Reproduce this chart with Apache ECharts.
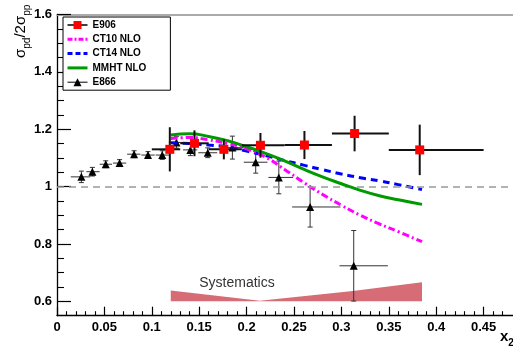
<!DOCTYPE html>
<html>
<head>
<meta charset="utf-8">
<script src="https://cdn.jsdelivr.net/npm/echarts@6/dist/echarts.min.js"></script>
<style>
html,body{margin:0;padding:0;background:#fff;}
#chart{width:513px;height:346px;}
</style>
</head>
<body>
<div id="chart"></div>
<script>
// ---- data ----
const e906X   = [0.119, 0.145, 0.176, 0.2146, 0.261, 0.3139, 0.3826];
const e906Y   = [1.130, 1.151, 1.130, 1.144, 1.145, 1.185, 1.128];
const e906Err = [0.077, 0.045, 0.035, 0.043, 0.049, 0.062, 0.088];
const e906XLo = [0.10, 0.13, 0.16, 0.195, 0.24, 0.29, 0.35];
const e906XHi = [0.13, 0.16, 0.195, 0.24, 0.29, 0.35, 0.45];

const e866X   = [0.0257, 0.0373, 0.0514, 0.066, 0.0813, 0.096, 0.111, 0.126, 0.1407, 0.159, 0.185, 0.2096, 0.234, 0.267, 0.313];
const e866Y   = [1.034, 1.052, 1.078, 1.082, 1.113, 1.110, 1.110, 1.154, 1.128, 1.118, 1.136, 1.085, 1.032, 0.929, 0.724];
const e866Err = [0.020, 0.015, 0.012, 0.012, 0.012, 0.012, 0.015, 0.020, 0.020, 0.017, 0.040, 0.038, 0.057, 0.070, 0.123];
const e866XLo = [0.0145, 0.031, 0.045, 0.059, 0.074, 0.089, 0.104, 0.118, 0.133, 0.149, 0.172, 0.197, 0.223, 0.248, 0.298];
const e866XHi = [0.035, 0.045, 0.058, 0.073, 0.088, 0.103, 0.118, 0.133, 0.148, 0.169, 0.197, 0.222, 0.249, 0.299, 0.349];

const curveX = [0.12, 0.14, 0.16, 0.18, 0.20, 0.22, 0.24, 0.26, 0.28, 0.30, 0.32, 0.34, 0.36, 0.385];
const ct10   = [1.168, 1.171, 1.163, 1.150, 1.132, 1.103, 1.060, 1.015, 0.973, 0.935, 0.900, 0.870, 0.843, 0.808];
const ct14   = [1.153, 1.150, 1.145, 1.138, 1.124, 1.108, 1.091, 1.075, 1.059, 1.044, 1.031, 1.020, 1.007, 0.990];
const mmht   = [1.180, 1.184, 1.175, 1.160, 1.139, 1.116, 1.090, 1.061, 1.034, 1.010, 0.987, 0.968, 0.954, 0.938];

const sysX    = [0.12, 0.214, 0.312, 0.385];
const sysTop  = [0.638, 0.602, 0.636, 0.667];
const sysBase = 0.6;

const refLine = 1.0;

const xTicks      = [0, 0.05, 0.1, 0.15, 0.2, 0.25, 0.3, 0.35, 0.4, 0.45];
const xMinorTicks = [0.01,0.02,0.03,0.04,0.06,0.07,0.08,0.09,0.11,0.12,0.13,0.14,0.16,0.17,0.18,0.19,0.21,0.22,0.23,0.24,0.26,0.27,0.28,0.29,0.31,0.32,0.33,0.34,0.36,0.37,0.38,0.39,0.41,0.42,0.43,0.44,0.46,0.47];
const yTicks      = [0.6, 0.8, 1, 1.2, 1.4, 1.6];
const yMinorTicks = [0.65,0.7,0.75,0.85,0.9,0.95,1.05,1.1,1.15,1.25,1.3,1.35,1.45,1.5,1.55];

const xMin = 0, xMax = 0.481, yMin = 0.55, yMax = 1.6;

// ---- build ----
const zip = (a, b) => a.map((v, i) => [v, b[i]]);
const errData = (x, y, e, lo, hi) => x.map((v, i) => [v, y[i], lo[i], hi[i], y[i] - e[i], y[i] + e[i]]);

function errRender(width, color, cap) {
  return function (params, api) {
    const x = api.value(0), y = api.value(1);
    const pL = api.coord([api.value(2), y]), pR = api.coord([api.value(3), y]);
    const pB = api.coord([x, api.value(4)]), pT = api.coord([x, api.value(5)]);
    const st = { stroke: color, lineWidth: width };
    const ch = [
      { type: 'line', shape: { x1: pL[0], y1: pL[1], x2: pR[0], y2: pR[1] }, style: st },
      { type: 'line', shape: { x1: pB[0], y1: pB[1], x2: pT[0], y2: pT[1] }, style: st }
    ];
    if (cap) {
      ch.push({ type: 'line', shape: { x1: pB[0] - cap, y1: pB[1], x2: pB[0] + cap, y2: pB[1] }, style: st });
      ch.push({ type: 'line', shape: { x1: pT[0] - cap, y1: pT[1], x2: pT[0] + cap, y2: pT[1] }, style: st });
    }
    return { type: 'group', children: ch };
  };
}

const FONT = 'Liberation Sans, Arial, Helvetica, sans-serif';

const baseX = { type: 'value', min: xMin, max: xMax, splitLine: { show: false } };
const baseY = { type: 'value', min: yMin, max: yMax, splitLine: { show: false } };
const noSym = { opacity: 0, color: 'transparent', borderWidth: 0 };

const chart = echarts.init(document.getElementById('chart'), null, { renderer: 'canvas' });
chart.setOption({
  animation: false,
  backgroundColor: '#fff',
  grid: { left: 57, right: 0, top: 14.5, bottom: 30.3, outerBoundsMode: 'none' },
  xAxis: [
    Object.assign({}, baseX, {
      position: 'bottom',
      axisLine: { show: true, lineStyle: { color: '#000', width: 1.3 } },
      axisTick: { show: true, inside: true, length: 9, customValues: xTicks, lineStyle: { color: '#000', width: 1.2 } },
      axisLabel: { show: true, customValues: xTicks, margin: 5, color: '#000', fontFamily: FONT, fontWeight: 'bold', fontSize: 13 }
    }),
    Object.assign({}, baseX, {
      position: 'bottom',
      axisLine: { show: false },
      axisTick: { show: true, inside: true, length: 4.5, customValues: xMinorTicks, lineStyle: { color: '#000', width: 1.1 } },
      axisLabel: { show: false }
    }),
    Object.assign({}, baseX, {
      position: 'top',
      axisLine: { show: true, lineStyle: { color: '#aaa', width: 2 } },
      axisTick: { show: false },
      axisLabel: { show: false }
    })
  ],
  yAxis: [
    Object.assign({}, baseY, {
      position: 'left',
      axisLine: { show: true, lineStyle: { color: '#000', width: 1.3 } },
      axisTick: { show: true, inside: true, length: 14, customValues: yTicks, lineStyle: { color: '#000', width: 1.2 } },
      axisLabel: { show: true, customValues: yTicks, margin: 5, color: '#000', fontFamily: FONT, fontWeight: 'bold', fontSize: 13 }
    }),
    Object.assign({}, baseY, {
      position: 'left',
      axisLine: { show: false },
      axisTick: { show: true, inside: true, length: 7, customValues: yMinorTicks, lineStyle: { color: '#000', width: 1.1 } },
      axisLabel: { show: false }
    })
  ],
  legend: {
    orient: 'vertical', left: 63, top: 17,
    itemWidth: 20, itemHeight: 10, itemGap: 4.3,
    padding: [3, 24, 3, 3],
    borderColor: '#000', borderWidth: 1, backgroundColor: '#fff',
    selectedMode: false,
    textStyle: { fontFamily: FONT, fontWeight: 'bold', fontSize: 10, color: '#000', padding: [0, 0, 0, 0] },
    data: [
      { name: 'E906', lineStyle: { color: '#000', width: 1.5 } },
      { name: 'CT10 NLO', itemStyle: noSym, lineStyle: { width: 3, type: [5, 2, 2, 2] } },
      { name: 'CT14 NLO', itemStyle: noSym, lineStyle: { width: 3, type: [5, 3] } },
      { name: 'MMHT NLO', itemStyle: noSym, lineStyle: { width: 3 } },
      { name: 'E866', lineStyle: { color: '#000', width: 1 } }
    ]
  },
  graphic: [
    {
      type: 'text', x: 28, y: 58, rotation: Math.PI / 2,
      style: {
        text: '{m|σ}{s|pd}{m|/2σ}{s|pp}',
        fill: '#000', align: 'left', verticalAlign: 'bottom',
        rich: {
          m: { fontFamily: FONT, fontSize: 15, fill: '#000', lineHeight: 18, verticalAlign: 'bottom' },
          s: { fontFamily: FONT, fontSize: 10, fill: '#000', lineHeight: 18, verticalAlign: 'bottom', padding: [0, 0, -4, 0] }
        }
      }
    },
    {
      type: 'text', x: 500, y: 344,
      style: {
        text: '{m|x}{s|2}', fill: '#000', align: 'left', verticalAlign: 'bottom',
        rich: {
          m: { fontFamily: FONT, fontWeight: 'bold', fontSize: 15, fill: '#000', lineHeight: 16, verticalAlign: 'bottom' },
          s: { fontFamily: FONT, fontWeight: 'bold', fontSize: 10, fill: '#000', lineHeight: 16, verticalAlign: 'bottom', padding: [0, 0, -4, 0] }
        }
      }
    },
    {
      type: 'text', x: 237, y: 283,
      style: { text: 'Systematics', fill: '#333', fontFamily: FONT, fontSize: 14, align: 'center', verticalAlign: 'middle' }
    }
  ],
  series: [
    {
      name: 'Systematics', type: 'line', z: 1,
      data: zip(sysX, sysTop), symbol: 'none', silent: true,
      lineStyle: { width: 0 },
      areaStyle: { origin: sysBase, color: '#d4646e', opacity: 0.95 },
      markLine: {
        silent: true, symbol: 'none', label: { show: false },
        lineStyle: { color: '#999', type: [7, 5], width: 1.6 },
        data: [{ yAxis: refLine }]
      }
    },
    {
      name: 'E866err', type: 'custom', z: 2, silent: true,
      renderItem: errRender(1, '#333', 2.5),
      data: errData(e866X, e866Y, e866Err, e866XLo, e866XHi)
    },
    {
      name: 'E866', type: 'line', z: 3, data: zip(e866X, e866Y),
      symbol: 'triangle', symbolSize: 8, showSymbol: true,
      itemStyle: { color: '#000' }, lineStyle: { width: 0, color: '#000' }
    },
    {
      name: 'CT14 NLO', type: 'line', z: 4, data: zip(curveX, ct14), smooth: true, symbol: 'none', showSymbol: false,
      itemStyle: { color: '#0000ff' }, lineStyle: { color: '#0000ff', width: 3, type: [7, 5] }
    },
    {
      name: 'CT10 NLO', type: 'line', z: 4, data: zip(curveX, ct10), smooth: true, symbol: 'none', showSymbol: false,
      itemStyle: { color: '#ff00ff' }, lineStyle: { color: '#ff00ff', width: 3, type: [7, 3, 2, 3] }
    },
    {
      name: 'MMHT NLO', type: 'line', z: 5, data: zip(curveX, mmht), smooth: true, symbol: 'none', showSymbol: false,
      itemStyle: { color: '#009a00' }, lineStyle: { color: '#009a00', width: 3 }
    },
    {
      name: 'E906err', type: 'custom', z: 6, silent: true,
      renderItem: errRender(2, '#111', 0),
      data: errData(e906X, e906Y, e906Err, e906XLo, e906XHi)
    },
    {
      name: 'E906', type: 'line', z: 7, data: zip(e906X, e906Y),
      symbol: 'rect', symbolSize: 9, showSymbol: true,
      itemStyle: { color: '#ff0000' }, lineStyle: { width: 0, color: '#ff0000' }
    }
  ]
});
</script>
</body>
</html>
